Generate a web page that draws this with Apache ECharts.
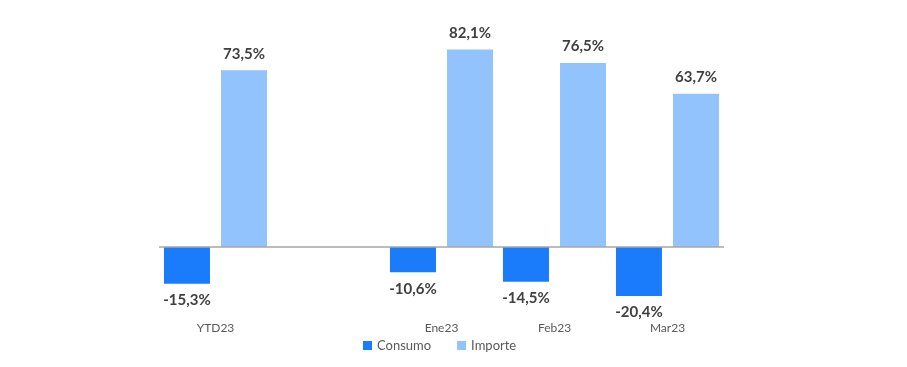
<!DOCTYPE html>
<html>
<head>
<meta charset="utf-8">
<script src="https://cdn.jsdelivr.net/npm/echarts@6/dist/echarts.min.js"></script>
<style>html,body{margin:0;padding:0;background:#fff}#c{width:907px;height:367px}</style>
</head>
<body>
<div id="c"></div>
<script>
const categories = ['YTD23', '', 'Ene23', 'Feb23', 'Mar23'];
const consumo = [-15.3, null, -10.6, -14.5, -20.4];
const importe = [73.5, null, 82.1, 76.5, 63.7];

const FONT = 'Lato, "Open Sans", sans-serif';
function toData(arr) {
  return arr.map(v => v == null ? null : { value: v, label: { position: v < 0 ? 'bottom' : 'top' } });
}
const fmt = p => p.value.toFixed(1).replace('.', ',') + '%';
const labelStyle = { show: true, formatter: fmt, color: '#404040', fontSize: 15, fontWeight: 'bold', fontFamily: FONT, distance: 9 };

const chart = echarts.init(document.getElementById('c'));
chart.setOption({
  animation: false,
  grid: { left: 159, right: 183, top: 30.5, bottom: 48 },
  legend: {
    bottom: 10, left: 358, itemWidth: 9, itemHeight: 9, itemGap: 26,
    icon: 'rect',
    textStyle: { color: '#595959', fontSize: 13, fontFamily: FONT }
  },
  xAxis: {
    type: 'category', data: categories,
    axisLine: { show: false }, axisTick: { show: false },
    axisLabel: { color: '#595959', fontSize: 12, fontFamily: FONT, margin: 3 }
  },
  yAxis: { type: 'value', min: -30, max: 90, show: false, splitLine: { show: false } },
  series: [
    {
      name: 'Consumo', type: 'bar', data: toData(consumo), barWidth: 46, barGap: '24%',
      itemStyle: { color: '#1a7bfb' }, label: labelStyle,
      markLine: {
        silent: true, symbol: 'none', label: { show: false },
        lineStyle: { color: '#a6a6a6', width: 1.5, type: 'solid' },
        data: [{ yAxis: 0 }]
      }
    },
    {
      name: 'Importe', type: 'bar', data: toData(importe), barWidth: 46, barGap: '24%',
      itemStyle: { color: '#93c3fd' }, label: labelStyle
    }
  ]
});
</script>
</body>
</html>
